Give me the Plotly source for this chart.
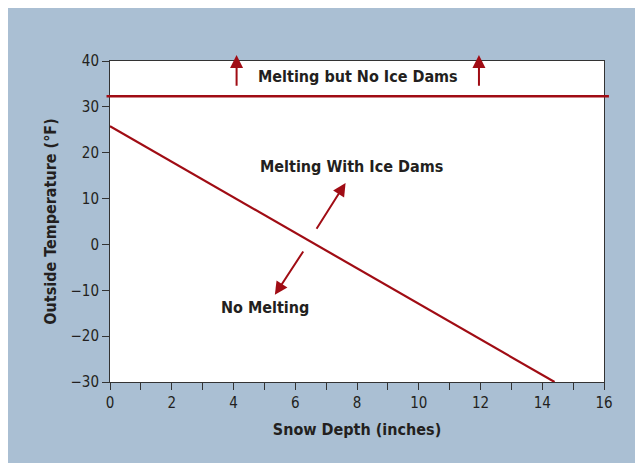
import plotly.graph_objects as go

# Data
depth_line = [0, 14.4]
temp_line = [25.8, -30]
threshold_temp = 32.3

up_arrows_x = [4.1, 11.95]
up_tail_y = 34.3
up_head_y = 41.3

diag_up = dict(tail=(6.66, 3.1), head=(7.63, 13.4))
diag_down = dict(tail=(6.29, -1.2), head=(5.34, -11.0))

labels = [
    ("Melting but No Ice Dams", 8.03, 36.7),
    ("Melting With Ice Dams", 7.82, 17.0),
    ("No Melting", 5.02, -13.8),
]

x_ticks = list(range(0, 17, 2))
y_ticks = list(range(-30, 41, 10))

RED = "#A00C14"
TXT = "#231F20"
BLUE = "#AABFD3"
FONT = "DejaVu Sans Condensed, sans-serif"

fig = go.Figure()
fig.add_trace(go.Scatter(x=depth_line, y=temp_line, mode="lines",
                         line=dict(color=RED, width=2.2), hoverinfo="skip"))

# threshold line, extending slightly past the plot frame as in the original
fig.add_shape(type="line", xref="paper", yref="y", x0=-0.007, x1=1.01,
              y0=threshold_temp, y1=threshold_temp, line=dict(color=RED, width=2.5))

for ax in up_arrows_x:
    fig.add_annotation(x=ax, y=up_head_y, ax=ax, ay=up_tail_y, xref="x", yref="y",
                       axref="x", ayref="y", showarrow=True, arrowhead=2,
                       arrowsize=1.3, arrowwidth=2, arrowcolor=RED, text="")
for d in (diag_up, diag_down):
    fig.add_annotation(x=d["head"][0], y=d["head"][1], ax=d["tail"][0], ay=d["tail"][1],
                       xref="x", yref="y", axref="x", ayref="y", showarrow=True,
                       arrowhead=2, arrowsize=1.3, arrowwidth=2, arrowcolor=RED, text="")

for t, x, y in labels:
    fig.add_annotation(x=x, y=y, xref="x", yref="y", text="<b>%s</b>" % t,
                       showarrow=False, font=dict(family=FONT, size=16, color=TXT))

axis_common = dict(showgrid=False, zeroline=False, showline=True, linecolor="#333",
                   linewidth=1, mirror=True, ticks="outside", tickcolor="#333",
                   ticklen=7, tickfont=dict(family=FONT, size=15, color=TXT))

fig.update_xaxes(range=[0, 16], tickvals=x_ticks, ticktext=[str(v) for v in x_ticks],
                 minor=dict(dtick=1, ticks="outside", ticklen=7, tickcolor="#333"),
                 title=dict(text="<b>Snow Depth (inches)</b>",
                            font=dict(family=FONT, size=16, color=TXT), standoff=12),
                 **axis_common)
fig.update_yaxes(range=[-30, 40], tickvals=y_ticks,
                 ticktext=[("\u2212" + str(-v)) if v < 0 else str(v) for v in y_ticks],
                 title=dict(text="<b>Outside Temperature (°F)</b>",
                            font=dict(family=FONT, size=16, color=TXT), standoff=9),
                 **axis_common)

fig.update_layout(width=643, height=463, showlegend=False,
                  paper_bgcolor=BLUE, plot_bgcolor="white",
                  margin=dict(l=102, r=47, t=53, b=89))

fig.write_html("out.html")
